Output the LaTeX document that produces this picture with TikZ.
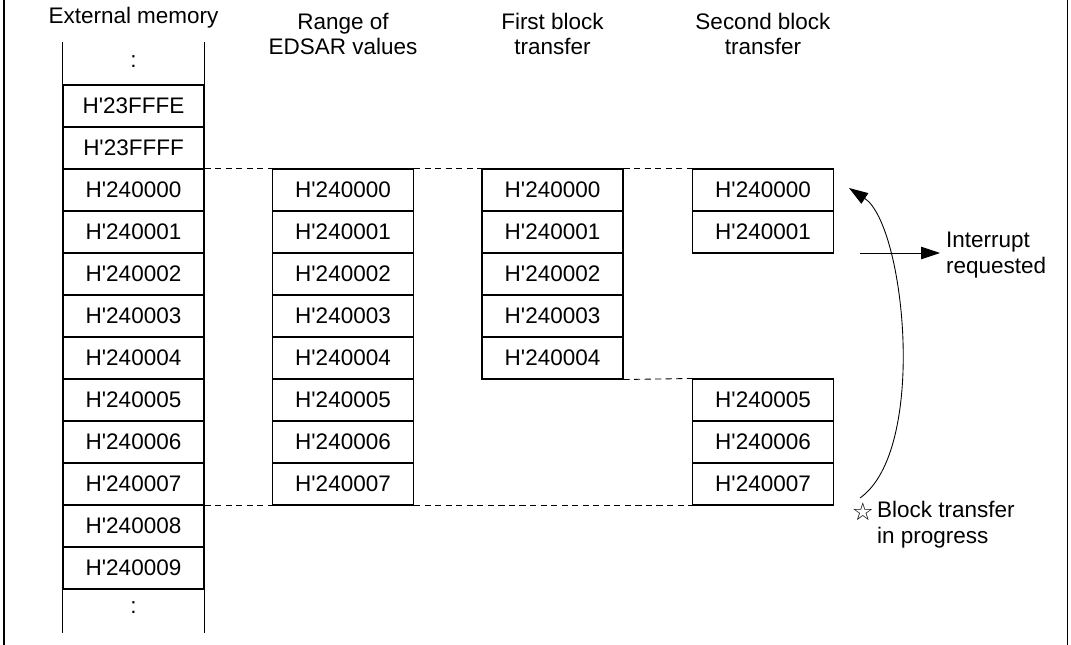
\documentclass[tikz,border=0pt]{standalone}
\usepackage{fontspec}
\setmainfont{Liberation Sans}
\newfontfamily\starfont{DejaVu Sans}
\usetikzlibrary{arrows.meta}
\newcommand\addr[1]{H\textquotesingle #1}
\begin{document}
\begin{tikzpicture}[x=0.02cm,y=-0.02cm,>={Triangle[length=0.38cm,width=0.25cm]},
  every node/.style={font=\fontsize{12.8}{14.7}\selectfont},
  cell/.style={draw,line width=0.6pt,minimum width=2.82cm,minimum height=0.84cm,inner sep=0pt},
  guide/.style={line width=0.5pt,dash pattern=on 3.5pt off 2.5pt}]
 \useasboundingbox (0,0) rectangle (1071,645);
 \draw[line width=1.5pt] (4,0) -- (4,645);
 \draw[line width=1pt] (1067.5,0) -- (1067.5,645);
 \begin{scope}
  \node (hd-ext) at (133.5,18) {External memory};
  \node (ext-top) at (133.5,62) {:};
  \foreach \t [count=\i] in {23FFFE,23FFFF,240000,240001,240002,240003,240004,240005,240006,240007,240008,240009}
   \node[cell] (ext-\i) at (133.5,64+42*\i) {\addr{\t}};
  \node (ext-bot) at (133.5,608) {:};
  \draw[line width=0.6pt] (ext-1.north west) -- ++(0,-42);
  \draw[line width=0.6pt] (ext-1.north east) -- ++(0,-42);
  \draw[line width=0.6pt] (ext-12.south west) -- ++(0,43);
  \draw[line width=0.6pt] (ext-12.south east) -- ++(0,43);
 \end{scope}
 \begin{scope}
  \node[align=center] (hd-rng) at (343,34) {Range of\\EDSAR values};
  \foreach \t [count=\i] in {0,...,7}
   \node[cell] (rng-\i) at (343,148+42*\i) {\addr{24000\t}};
 \end{scope}
 \begin{scope}
  \node[align=center] (hd-fst) at (552.5,34) {First block\\transfer};
  \foreach \t [count=\i] in {0,...,4}
   \node[cell] (fst-\i) at (552.5,148+42*\i) {\addr{24000\t}};
 \end{scope}
 \begin{scope}
  \node[align=center] (hd-snd) at (763,34) {Second block\\transfer};
  \foreach \i/\t in {1/0,2/1,6/5,7/6,8/7}
   \node[cell] (snd-\i) at (763,148+42*\i) {\addr{24000\t}};
 \end{scope}
 \draw[guide] (ext-3.north east) -- (rng-1.north west);
 \draw[guide] (rng-1.north east) -- (fst-1.north west);
 \draw[guide] (fst-1.north east) -- (snd-1.north west);
 \draw[guide] (ext-10.south east) -- (rng-8.south west);
 \draw[guide] (rng-8.south east) -- (snd-8.south west);
 \draw[guide] (fst-5.south east) -- (snd-6.north west);
 \node[anchor=west,align=left] (irq-txt) at (940,255) {Interrupt\\requested};
 \coordinate (irq) at (860,253);
 \draw[->,line width=0.5pt] (irq) -- (irq-txt.west |- irq);
 \node[anchor=west,align=left] (prog) at (871,525) {Block transfer\\in progress};
 \node[inner sep=0pt] (star) at (863,512) {\starfont\fontsize{14}{14}\selectfont ☆};
 \coordinate (loop-a) at (860,498);
 \coordinate (loop-b) at (849,188);
 \draw[->,line width=0.5pt] (loop-a) .. controls (928,450) and (905,225) .. (loop-b);
\end{tikzpicture}
\end{document}
